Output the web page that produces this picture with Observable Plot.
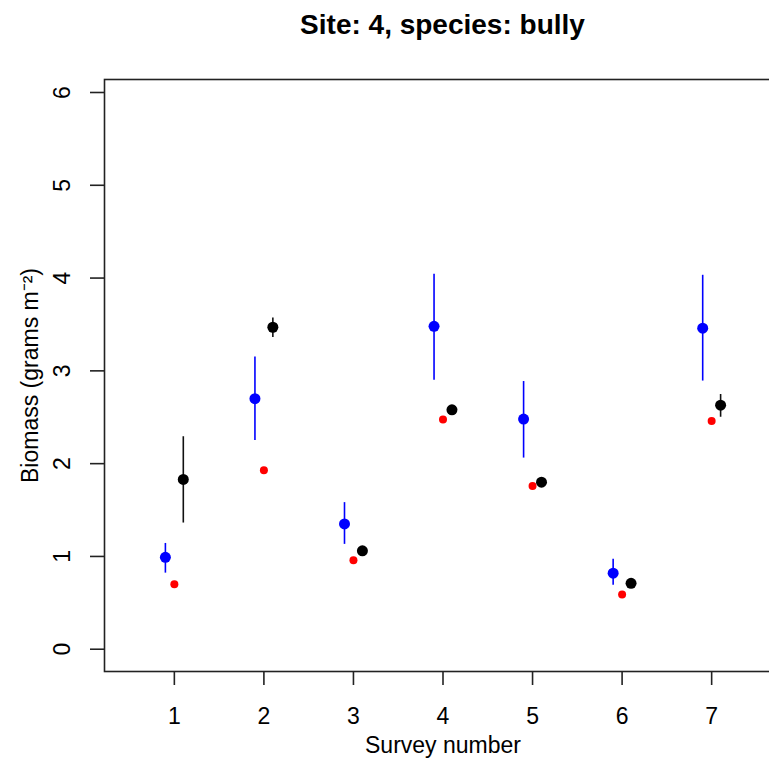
<!DOCTYPE html>
<html>
<head>
<meta charset="utf-8">
<script src="https://cdn.jsdelivr.net/npm/d3@7"></script>
<script src="https://cdn.jsdelivr.net/npm/@observablehq/plot@0.6"></script>
<style>
  html, body { margin: 0; padding: 0; background: #fff; overflow: hidden; width: 769px; height: 758px; }
  #title { position: absolute; left: 104px; width: 677px; top: 0; padding-top: 9px; height: 41px; line-height: 28px;
           text-align: center; font: bold 28px "Liberation Sans", Arial, sans-serif; color: #000; }
  #chart { position: absolute; left: 0; top: 50px; width: 800px; }
  #chart svg { max-width: none !important; }
</style>
</head>
<body>
<div id="title">Site: 4, species: bully</div>
<div id="chart"></div>
<script>
const surveys   = [1, 2, 3, 4, 5, 6, 7];
const blueMean  = [0.99, 2.70, 1.35, 3.48, 2.48, 0.82, 3.46];
const blueLo    = [0.82, 2.25, 1.13, 2.90, 2.06, 0.69, 2.89];
const blueHi    = [1.14, 3.15, 1.58, 4.04, 2.885, 0.97, 4.03];
const redMean   = [0.70, 1.93, 0.96, 2.475, 1.76, 0.59, 2.46];
const blackMean = [1.83, 3.47, 1.06, 2.58, 1.80, 0.71, 2.63];
const blackLo   = [1.36, 3.36, 1.06, 2.58, 1.80, 0.71, 2.50];
const blackHi   = [2.29, 3.57, 1.06, 2.58, 1.80, 0.71, 2.745];
const xTicks = [1, 2, 3, 4, 5, 6, 7];
const yTicks = [0, 1, 2, 3, 4, 5, 6];
const title = "Site: 4, species: bully";
const xLabel = "Survey number";
const yLabel = "Biomass (grams m\u207B\u00B2)";

const blue = surveys.map((s, i) => ({s, m: blueMean[i], lo: blueLo[i], hi: blueHi[i]}));
const red = surveys.map((s, i) => ({s, m: redMean[i]}));
const black = surveys.map((s, i) => ({s, m: blackMean[i], lo: blackLo[i], hi: blackHi[i]}));

const font = "Liberation Sans, Arial, sans-serif";
const chart = Plot.plot({
  width: 800,
  height: 708,
  marginTop: 29,
  marginBottom: 87,
  marginLeft: 104,
  marginRight: 19,
  style: {fontFamily: font, background: "#fff", color: "#000", maxWidth: "none"},
  x: {domain: [0.22, 7.78], axis: null},
  y: {domain: [-0.24, 6.14], axis: null},
  marks: [
    Plot.frame({stroke: "#222", strokeWidth: 1.6}),
    Plot.axisX({ticks: xTicks, anchor: "bottom", tickSize: 14, tickPadding: 22, fontSize: 23, label: null, stroke: "#222", strokeWidth: 1.6, tickFormat: d => String(d)}),
    Plot.axisY({ticks: yTicks, anchor: "left", tickSize: 14, fill: "none", label: null, stroke: "#222", strokeWidth: 1.6}),
    Plot.text(yTicks, {y: d => d, text: d => String(d), frameAnchor: "left", dx: -42, rotate: -90, fontSize: 23, lineAnchor: "middle", textAnchor: "middle"}),
    Plot.text([yLabel], {frameAnchor: "left", dx: -74, rotate: -90, fontSize: 23, lineAnchor: "middle", textAnchor: "middle"}),
    Plot.text([xLabel], {frameAnchor: "bottom", dy: 74, fontSize: 23, lineAnchor: "middle", textAnchor: "middle"}),
    Plot.ruleX(blue, {x: d => d.s - 0.1, y1: "lo", y2: "hi", stroke: "#0000ff", strokeWidth: 1.6}),
    Plot.ruleX(black, {x: d => d.s + 0.1, y1: "lo", y2: "hi", stroke: "#111", strokeWidth: 1.6}),
    Plot.dot(blue, {x: d => d.s - 0.1, y: "m", r: 5.5, fill: "#0000ff"}),
    Plot.dot(red, {x: "s", y: "m", r: 4, fill: "#ff0000"}),
    Plot.dot(black, {x: d => d.s + 0.1, y: "m", r: 5.5, fill: "#000"})
  ]
});
document.getElementById("chart").appendChild(chart);
</script>
</body>
</html>
